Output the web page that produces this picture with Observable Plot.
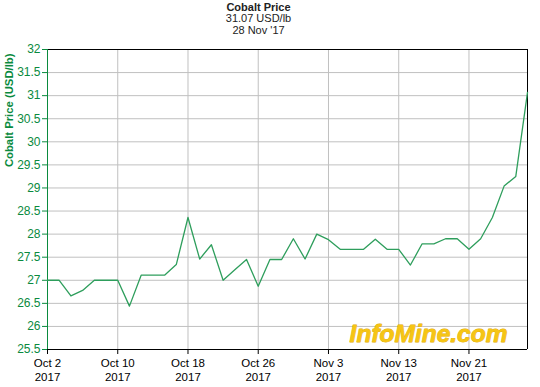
<!DOCTYPE html>
<html>
<head>
<meta charset="utf-8">
<script src="https://cdn.jsdelivr.net/npm/d3@7"></script>
<script src="https://cdn.jsdelivr.net/npm/@observablehq/plot@0.6"></script>
<style>
  html, body { margin: 0; padding: 0; background: #fff; }
  #chart svg { display: block; }
</style>
</head>
<body>
<div id="chart"></div>
<script>
// Business days, Oct 2 – Nov 28 2017
const dates = [
  "2017-10-02","2017-10-03","2017-10-04","2017-10-05","2017-10-06",
  "2017-10-09","2017-10-10","2017-10-11","2017-10-12","2017-10-13",
  "2017-10-16","2017-10-17","2017-10-18","2017-10-19","2017-10-20",
  "2017-10-23","2017-10-24","2017-10-25","2017-10-26","2017-10-27",
  "2017-10-30","2017-10-31","2017-11-01","2017-11-02","2017-11-03",
  "2017-11-06","2017-11-07","2017-11-08","2017-11-09","2017-11-10",
  "2017-11-13","2017-11-14","2017-11-15","2017-11-16","2017-11-17",
  "2017-11-20","2017-11-21","2017-11-22","2017-11-23","2017-11-24",
  "2017-11-27","2017-11-28"
];
const prices = [
  27.00, 27.00, 26.66, 26.78, 27.00,
  27.00, 27.00, 26.44, 27.11, 27.11,
  27.11, 27.34, 28.36, 27.46, 27.77,
  27.00, 27.23, 27.45, 26.87, 27.45,
  27.45, 27.90, 27.46, 28.00, 27.88,
  27.67, 27.67, 27.67, 27.89, 27.67,
  27.67, 27.33, 27.79, 27.79, 27.90,
  27.90, 27.67, 27.90, 28.36, 29.04,
  29.25, 31.07
];
const xTickIndex = [0, 6, 12, 18, 24, 30, 36];
const xTickLabels = ["Oct 2\n2017", "Oct 10\n2017", "Oct 18\n2017", "Oct 26\n2017", "Nov 3\n2017", "Nov 13\n2017", "Nov 21\n2017"];
const yTicks = [25.5, 26, 26.5, 27, 27.5, 28, 28.5, 29, 29.5, 30, 30.5, 31, 31.5, 32];
const titleText = "Cobalt Price";
const subtitleText = "31.07 USD/lb";
const dateText = "28 Nov '17";
const yLabel = "Cobalt Price (USD/lb)";
const watermark = "InfoMine.com";

const axisGreen = "#0a8a3e";
const lineGreen = "#2e9e5c";
const data = dates.map((d, i) => ({i, date: d, price: prices[i]}));
const font = "'Liberation Sans', Arial, sans-serif";

const chart = Plot.plot({
  width: 540,
  height: 387,
  marginTop: 49,
  marginLeft: 47,
  marginRight: 13,
  marginBottom: 38,
  style: {fontFamily: font, fontSize: "12px", background: "white", color: "black"},
  x: {type: "linear", domain: [0, dates.length - 1]},
  y: {domain: [25.5, 32]},
  marks: [
    Plot.gridX(xTickIndex, {stroke: "#c0c0c0", strokeOpacity: 1}),
    Plot.gridY(yTicks, {stroke: "#c0c0c0", strokeOpacity: 1}),
    Plot.text([watermark], {
      frameAnchor: "bottom-right", textAnchor: "end", lineAnchor: "middle",
      dx: -20, dy: -15, fontSize: 24.5, fontWeight: "bold", fontStyle: "italic",
      fill: "#f6c514", stroke: "#e0a800", strokeWidth: 0.8
    }),
    Plot.ruleY([32], {stroke: "black"}),
    Plot.ruleY([25.5], {stroke: "black"}),
    Plot.ruleX([dates.length - 1], {stroke: "black"}),
    Plot.ruleX([0], {stroke: axisGreen}),
    Plot.line(data, {x: "i", y: "price", stroke: lineGreen, strokeWidth: 1.3}),
    Plot.axisX(xTickIndex, {
      tickSize: 5, tickPadding: 3, label: null, stroke: "black", fill: "black",
      tickFormat: i => xTickLabels[xTickIndex.indexOf(i)], lineHeight: 1.2, fontSize: 11.5
    }),
    Plot.axisY(yTicks, {
      tickSize: 5, tickPadding: 2, label: null, color: axisGreen,
      tickFormat: d => String(d), fontSize: 12
    }),
    Plot.text([yLabel], {
      frameAnchor: "top-left", rotate: -90, textAnchor: "end", lineAnchor: "middle",
      dx: -38, dy: 4, fill: axisGreen, fontWeight: "bold", fontSize: 11.3
    }),
    Plot.text([titleText], {
      frameAnchor: "top", lineAnchor: "middle", dx: -29, dy: -42.5,
      fontWeight: "bold", fontSize: 11, fill: "#222"
    }),
    Plot.text([subtitleText], {
      frameAnchor: "top", lineAnchor: "middle", dx: -29, dy: -31, fontSize: 11, fill: "#222"
    }),
    Plot.text([dateText], {
      frameAnchor: "top", lineAnchor: "middle", dx: -29, dy: -19, fontSize: 11, fill: "#222"
    })
  ]
});
document.getElementById("chart").appendChild(chart);
</script>
</body>
</html>
